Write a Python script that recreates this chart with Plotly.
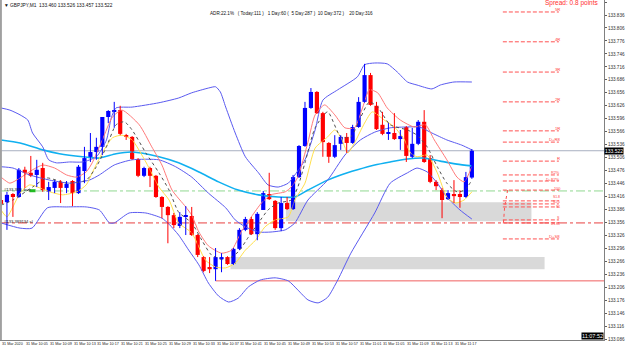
import plotly.graph_objects as go

# ---------------- data ----------------
title_text = "\u25bc GBPJPY,M1  133.460 133.526 133.457 133.522"
adr_text = "ADR:22.1%   ( Today:111 )   1 Day:60 (  5 Day:287 )  10 Day:372 )    20 Day:316"
spread_text = "Spread: 0.8 points"

opens = [133.408, 133.403, 133.422, 133.415, 133.478, 133.471, 133.466, 133.482, 133.427, 133.436,
         133.450, 133.436, 133.452, 133.424, 133.475, 133.505, 133.519, 133.531, 133.600, 133.612,
         133.616, 133.558, 133.554, 133.503, 133.464, 133.482, 133.464, 133.415, 133.392, 133.373,
         133.348, 133.369, 133.371, 133.327, 133.276, 133.253, 133.248, 133.271, 133.276, 133.260,
         133.295, 133.339, 133.364, 133.329, 133.385, 133.422, 133.406, 133.343, 133.401, 133.387,
         133.461, 133.533, 133.621, 133.658, 133.609, 133.540, 133.508, 133.538, 133.554, 133.540,
         133.577, 133.635, 133.697, 133.626, 133.582, 133.561, 133.563, 133.549, 133.577, 133.508,
         133.538, 133.589, 133.505, 133.450, 133.431, 133.410, 133.422, 133.422, 133.415, 133.460]
highs = [133.424, 133.427, 133.424, 133.482, 133.485, 133.510, 133.501, 133.494, 133.450, 133.454,
         133.454, 133.452, 133.454, 133.489, 133.531, 133.563, 133.552, 133.600, 133.616, 133.635,
         133.626, 133.561, 133.556, 133.505, 133.485, 133.485, 133.466, 133.417, 133.394, 133.378,
         133.380, 133.394, 133.392, 133.329, 133.278, 133.276, 133.297, 133.285, 133.278, 133.297,
         133.343, 133.369, 133.369, 133.380, 133.429, 133.471, 133.408, 133.415, 133.415, 133.466,
         133.535, 133.635, 133.667, 133.660, 133.612, 133.542, 133.558, 133.558, 133.563, 133.582,
         133.646, 133.723, 133.702, 133.635, 133.612, 133.586, 133.609, 133.570, 133.579, 133.575,
         133.593, 133.616, 133.512, 133.454, 133.436, 133.431, 133.454, 133.431, 133.473, 133.526]
lows = [133.373, 133.339, 133.369, 133.413, 133.436, 133.461, 133.438, 133.427, 133.408, 133.424,
        133.401, 133.424, 133.394, 133.422, 133.447, 133.496, 133.501, 133.512, 133.586, 133.575,
        133.558, 133.547, 133.501, 133.461, 133.461, 133.438, 133.413, 133.366, 133.308, 133.343,
        133.343, 133.327, 133.325, 133.276, 133.241, 133.239, 133.221, 133.241, 133.258, 133.258,
        133.292, 133.336, 133.327, 133.315, 133.385, 133.408, 133.339, 133.336, 133.385, 133.385,
        133.459, 133.531, 133.619, 133.607, 133.508, 133.494, 133.505, 133.524, 133.517, 133.538,
        133.575, 133.633, 133.626, 133.570, 133.558, 133.547, 133.547, 133.524, 133.496, 133.505,
        133.535, 133.494, 133.447, 133.431, 133.366, 133.408, 133.401, 133.390, 133.413, 133.457]
closes = [133.399, 133.420, 133.415, 133.478, 133.471, 133.464, 133.478, 133.431, 133.438, 133.450,
          133.436, 133.445, 133.424, 133.485, 133.505, 133.519, 133.531, 133.600, 133.614, 133.614,
          133.561, 133.554, 133.503, 133.464, 133.482, 133.464, 133.415, 133.392, 133.373, 133.350,
          133.369, 133.371, 133.327, 133.281, 133.244, 133.248, 133.276, 133.276, 133.260, 133.295,
          133.339, 133.364, 133.329, 133.376, 133.424, 133.410, 133.343, 133.401, 133.387, 133.461,
          133.533, 133.621, 133.658, 133.609, 133.542, 133.508, 133.535, 133.554, 133.540, 133.577,
          133.635, 133.697, 133.628, 133.572, 133.561, 133.563, 133.549, 133.556, 133.510, 133.538,
          133.589, 133.496, 133.450, 133.440, 133.408, 133.424, 133.417, 133.415, 133.461, 133.522]

bb_up_x = [0, 1.5, 3.2, 4.5, 5.3, 7, 8, 9.3, 11.5, 13.7, 16, 17.7, 18.5, 19.3, 22, 26.5, 29.8, 32, 34.8,
           36, 36.8, 37.7, 39.3, 41, 43.2, 44.8, 46.5, 48.2, 49.3, 51, 52.7, 54, 56.5, 59.8, 61, 62.7,
           64.8, 66.5, 68.2, 69.8, 72.3, 73.7, 76, 79]
bb_up_y = [133.621, 133.616, 133.605, 133.593, 133.563, 133.531, 133.501, 133.494, 133.496, 133.496,
           133.508, 133.547, 133.598, 133.621, 133.623, 133.633, 133.644, 133.656, 133.667, 133.670,
           133.658, 133.623, 133.563, 133.508, 133.471, 133.443, 133.438, 133.447, 133.466, 133.501,
           133.570, 133.639, 133.663, 133.693, 133.721, 133.725, 133.723, 133.704, 133.681, 133.674,
           133.665, 133.674, 133.681, 133.681]
bb_mid_x = [0, 2, 4.8, 8.2, 11.5, 14.8, 16.5, 19, 22, 26.5, 29.3, 32, 34.8, 37.7, 39.3, 41, 43.2, 45.3,
            47.7, 49.3, 51.5, 54.8, 57.7, 60.3, 62.7, 65.3, 68.2, 70.2, 72.3, 74.8, 77.3, 79]
bb_mid_y = [133.485, 133.482, 133.466, 133.454, 133.447, 133.454, 133.466, 133.489, 133.501, 133.501,
            133.485, 133.461, 133.424, 133.390, 133.362, 133.346, 133.334, 133.334, 133.339, 133.355,
            133.408, 133.454, 133.512, 133.547, 133.565, 133.575, 133.577, 133.577, 133.563, 133.547,
            133.535, 133.524]
bb_lo_x = [0, 3.2, 5.2, 7.8, 11, 14.3, 16.5, 18.2, 19, 21.5, 24.3, 27, 28.2, 29.8, 31.5, 33.2, 34.8,
           36.5, 38.2, 39.8, 41.5, 43.5, 46, 48.2, 49.8, 51.5, 53.2, 54.8, 56.5, 58.7, 62.7, 65.3, 68.2,
           69.8, 71.5, 73.2, 74.8, 77, 79]
bb_lo_y = [133.355, 133.343, 133.343, 133.390, 133.392, 133.392, 133.385, 133.355, 133.355, 133.378,
           133.378, 133.366, 133.352, 133.327, 133.292, 133.258, 133.216, 133.186, 133.172, 133.181,
           133.207, 133.223, 133.228, 133.221, 133.200, 133.177, 133.170, 133.183, 133.223, 133.285,
           133.378, 133.447, 133.471, 133.482, 133.473, 133.447, 133.415, 133.385, 133.364]
ma_slow_x = [0, 3.2, 7, 9.8, 13.7, 16.5, 19.3, 22, 26.5, 29.8, 33.2, 36.5, 39.8, 43.2, 46.5, 49.3, 51.5,
             54.8, 57, 59.8, 62.7, 65.3, 68.2, 71, 73.7, 76.5, 79]
ma_slow_y = [133.547, 133.540, 133.524, 133.515, 133.508, 133.505, 133.515, 133.519, 133.508, 133.494,
             133.473, 133.450, 133.431, 133.420, 133.415, 133.415, 133.431, 133.454, 133.466, 133.478,
             133.489, 133.496, 133.503, 133.505, 133.498, 133.491, 133.487]
env_hi_x = [0, 1.5, 3.2, 5.3, 7, 9, 11, 12.7, 14.3, 15.3, 17, 18.7, 20.3, 23.2, 25.3, 27, 28.7, 31, 32,
            33.2, 34.8, 37, 38.7, 40.3, 42, 43.7, 45.3, 47.7, 48.7, 49.8, 51.5, 52.7, 54.3, 56, 57.7,
            59.3, 60.7, 61.8, 63.2, 64.8, 67, 69.3, 71.2, 72.7, 74.8, 76.5, 77.7, 79]
env_hi_y = [133.461, 133.447, 133.459, 133.478, 133.489, 133.482, 133.466, 133.461, 133.473, 133.494,
            133.547, 133.600, 133.616, 133.582, 133.531, 133.489, 133.431, 133.392, 133.373, 133.334,
            133.302, 133.285, 133.292, 133.334, 133.369, 133.401, 133.420, 133.427, 133.438, 133.461,
            133.542, 133.605, 133.628, 133.605, 133.575, 133.575, 133.623, 133.663, 133.656, 133.621,
            133.593, 133.577, 133.582, 133.547, 133.501, 133.461, 133.450, 133.485]
env_lo_x = [0, 1, 2, 3.2, 4.8, 6.5, 8.2, 10.3, 12.7, 14.3, 15.3, 17, 18.7, 20.3, 22, 24.3, 26.5, 28.2,
            29.8, 32, 34.3, 36, 37.7, 39.3, 41, 42.7, 44.3, 46, 48.2, 49.3, 51, 52.7, 54.8, 56, 57,
            58.2, 59.3, 61, 62.3, 64.3, 66, 67.7, 68.7, 69.8, 71.5, 73.2, 74.8, 76.2, 77.7, 79]
env_lo_y = [133.385, 133.369, 133.392, 133.424, 133.443, 133.436, 133.427, 133.420, 133.427, 133.443,
            133.471, 133.517, 133.552, 133.558, 133.547, 133.496, 133.438, 133.408, 133.355, 133.332,
            133.269, 133.253, 133.251, 133.262, 133.292, 133.315, 133.346, 133.362, 133.369, 133.408,
            133.447, 133.528, 133.554, 133.570, 133.554, 133.517, 133.540, 133.586, 133.612, 133.593,
            133.577, 133.547, 133.517, 133.508, 133.512, 133.471, 133.415, 133.401, 133.408, 133.427]
ma_fast_x = [0, 2, 5.3, 7.7, 11, 14.3, 16, 17.7, 19.3, 20.7, 22, 24.3, 26.5, 28.2, 29.8, 32, 33.7, 35.3,
             37.7, 39.8, 41.5, 43.2, 44.8, 46.5, 48.7, 49.8, 51, 52.7, 54.8, 57, 58.7, 60.3, 61.8, 63.2,
             65.3, 68.2, 69.8, 71.5, 73.2, 74.8, 76.5, 77.8, 79]
ma_fast_y = [133.396, 133.408, 133.438, 133.459, 133.447, 133.454, 133.485, 133.531, 133.582, 133.589,
             133.570, 133.517, 133.471, 133.431, 133.380, 133.355, 133.315, 133.281, 133.269, 133.288,
             133.322, 133.355, 133.385, 133.401, 133.408, 133.438, 133.494, 133.575, 133.612, 133.554,
             133.554, 133.598, 133.635, 133.623, 133.582, 133.570, 133.558, 133.531, 133.485, 133.447,
             133.427, 133.431, 133.454]

zone_upper = [47.8, 89.0, 133.359, 133.403]
zone_lower = [38.5, 91.2, 133.248, 133.276]
green_level = 133.429
red_level = 133.355
low_start = 36

pivot_levels = [133.843, 133.774, 133.704, 133.635, 133.568, 133.542, 133.498, 133.466, 133.452,
                133.431, 133.406, 133.399, 133.392, 133.362, 133.355, 133.318]
pivot_labels = ["5R", "4R", "3R", "2R", "1R", "D+R8", "R", "R2%", "D+R7%", "100",
                "S1.8", "S1.5", "S1", "S", "D+S1", "D+S8"]
pivot_x = [84.2, 93.6]

tick_labels = ["133.866", "133.836", "133.806", "133.776", "133.746", "133.716", "133.686", "133.656",
               "133.626", "133.596", "133.566", "133.536", "133.506", "133.476", "133.446", "133.416",
               "133.386", "133.356", "133.326", "133.296", "133.266", "133.236", "133.206", "133.176",
               "133.146", "133.116", "133.086"]
time_labels = ["31 Mar 2020", "31 Mar 10:05", "31 Mar 10:09", "31 Mar 10:13", "31 Mar 10:17",
               "31 Mar 10:21", "31 Mar 10:25", "31 Mar 10:29", "31 Mar 10:33", "31 Mar 10:37",
               "31 Mar 10:41", "31 Mar 10:45", "31 Mar 10:49", "31 Mar 10:53", "31 Mar 10:57",
               "31 Mar 11:01", "31 Mar 11:05", "31 Mar 11:09", "31 Mar 11:13", "31 Mar 11:17"]
time_pos = list(range(0, 80, 4))

# ---------------- figure ----------------
FONT = "Liberation Sans"
UP, DN = "#0000ff", "#ff0000"
bars = list(range(len(opens)))
fig = go.Figure()

def add_line(xs, ys, color, width=1, dash=None, shape="spline"):
    fig.add_trace(go.Scatter(x=xs, y=ys, mode="lines", hoverinfo="skip",
                             line=dict(color=color, width=width, dash=dash, shape=shape, smoothing=0.6)))

add_line(ma_slow_x, ma_slow_y, "#10b0f0", 1.6)
add_line(bb_up_x, bb_up_y, "#5a5af0", 1)
add_line(bb_mid_x, bb_mid_y, "#5a5af0", 1)
add_line(bb_lo_x, bb_lo_y, "#5a5af0", 1)
add_line(env_hi_x, env_hi_y, "#ff7a7a", 1)
add_line(env_lo_x, env_lo_y, "#ffe04a", 1)
add_line(ma_fast_x, ma_fast_y, "#505050", 1, "dot")

# pivot dashed levels
px, py = [], []
for lv in pivot_levels:
    px += [pivot_x[0], pivot_x[1], None]
    py += [lv, lv, None]
fig.add_trace(go.Scatter(x=px, y=py, mode="lines", hoverinfo="skip",
                         line=dict(color="#ff5050", width=1, dash="4px,2px")))
fig.add_trace(go.Scatter(x=[85.0, 84.5, 84.3], y=[pivot_levels[9], pivot_levels[12], red_level],
                         mode="lines", hoverinfo="skip", line=dict(color="#ff5050", width=1, dash="dot")))

# candles: wicks + bodies
for color, test in ((UP, lambda o, c: c >= o), (DN, lambda o, c: c < o)):
    wx, wy = [], []
    for i in bars:
        if test(opens[i], closes[i]):
            wx += [i, i, None]
            wy += [lows[i], highs[i], None]
    fig.add_trace(go.Scatter(x=wx, y=wy, mode="lines", hoverinfo="skip",
                             line=dict(color=color, width=1)))
body_base = [min(o, c) for o, c in zip(opens, closes)]
body_h = [max(abs(c - o), 0.0024) for o, c in zip(opens, closes)]
body_col = [UP if c >= o else DN for o, c in zip(opens, closes)]
fig.add_trace(go.Bar(x=bars, y=body_h, base=body_base, width=0.7,
                     marker=dict(color=body_col, line=dict(width=0)), hoverinfo="skip"))

shapes = [
    dict(type="rect", xref="x", yref="y", x0=zone_upper[0], x1=zone_upper[1], y0=zone_upper[2], y1=zone_upper[3],
         fillcolor="#d9d9d9", line=dict(width=0), layer="below"),
    dict(type="rect", xref="x", yref="y", x0=zone_lower[0], x1=zone_lower[1], y0=zone_lower[2], y1=zone_lower[3],
         fillcolor="#d9d9d9", line=dict(width=0), layer="below"),
    dict(type="line", xref="paper", yref="y", x0=0, x1=1, y0=closes[-1], y1=closes[-1],
         line=dict(color="#a8b0c0", width=1), layer="below"),
    dict(type="line", xref="paper", yref="y", x0=0, x1=1, y0=green_level, y1=green_level,
         line=dict(color="#90d890", width=1, dash="dashdot"), layer="below"),
    dict(type="line", xref="paper", yref="y", x0=0, x1=1, y0=red_level, y1=red_level,
         line=dict(color="#e84040", width=1, dash="dashdot"), layer="below"),
    dict(type="line", xref="x", yref="y", x0=low_start, x1=101.2, y0=min(lows), y1=min(lows),
         line=dict(color="#f06060", width=1), layer="below"),
    dict(type="rect", xref="x", yref="y", x0=4.8, x1=5.8, y0=green_level - 0.003, y1=green_level + 0.004,
         fillcolor="#22bb22", line=dict(width=0)),
    dict(type="line", xref="paper", yref="paper", x0=0.0015, x1=0.0015, y0=0, y1=1,
         line=dict(color="#a0a0a0", width=2)),
]

ann = []
for t, pos in zip(time_labels, time_pos):
    ann.append(dict(x=pos, y=0, xref="x", yref="paper", text=t, showarrow=False, borderpad=0,
                    xanchor="left", yanchor="top", yshift=-1, font=dict(size=3.7, color="#202020", family=FONT)))
small = {"S1.8": (3.4, 2), "S1.5": (3.4, 0), "S1": (3.4, -2), "S": (3.6, 0), "D+S1": (3.6, -3),
         "R2%": (3.8, 0), "D+R7%": (3.8, -1), "100": (3.8, -1)}
for lv, lb in zip(pivot_levels, pivot_labels):
    sz, ys = small.get(lb, (4.2, 0))
    ann.append(dict(x=pivot_x[1] + 0.3, y=lv, xref="x", yref="y", text=lb, showarrow=False, borderpad=0,
                    xanchor="right", yanchor="bottom", yshift=-1 + ys,
                    font=dict(size=sz, color="#ff4040", family=FONT)))
ann += [
    dict(x=0.003, y=0.998, xref="paper", yref="paper", text=title_text, showarrow=False,
         xanchor="left", yanchor="top", font=dict(size=4.8, color="#101010", family=FONT)),
    dict(x=0.345, y=0.975, xref="paper", yref="paper", text=adr_text, showarrow=False,
         xanchor="left", yanchor="top", font=dict(size=4.6, color="#101010", family=FONT)),
    dict(x=0.993, y=1.0, xref="paper", yref="paper", text=spread_text, showarrow=False, borderpad=0,
         xanchor="right", yanchor="top", yshift=2, font=dict(size=6.5, color="#ff3030", family=FONT)),
    dict(x=0.003, y=green_level, xref="paper", yref="y", text="#133.389  buy", showarrow=False,
         xanchor="left", yanchor="middle", yshift=1, font=dict(size=4.2, color="#202020", family=FONT)),
    dict(x=0.003, y=red_level, xref="paper", yref="y", text="#133.389134 sl", showarrow=False,
         xanchor="left", yanchor="middle", yshift=1, font=dict(size=4.2, color="#202020", family=FONT)),
    dict(x=1.0, y=closes[-1], xref="paper", yref="y", text="133.522", showarrow=False,
         xanchor="left", yanchor="middle", bgcolor="#000000", borderpad=0,
         font=dict(size=5, color="#ffffff", family=FONT)),
    dict(x=1.0, y=0, xref="paper", yref="paper", text="11:07:52", showarrow=False,
         xanchor="right", yanchor="bottom", bgcolor="#000000", borderpad=0,
         font=dict(size=5.5, color="#ffffff", family=FONT)),
]

fig.update_layout(
    width=625, height=349,
    margin=dict(l=0, r=17, t=0, b=9),
    paper_bgcolor="#ffffff", plot_bgcolor="#ffffff",
    showlegend=False, barmode="overlay",
    shapes=shapes, annotations=ann,
    xaxis=dict(range=[-1/6, 101.17], showgrid=False, zeroline=False, showticklabels=False,
               showline=True, linecolor="#808080", linewidth=1, fixedrange=True),
    yaxis=dict(range=[133.0842, 133.8707], side="right", showgrid=False, zeroline=False,
               tickvals=[float(t) for t in tick_labels], ticktext=tick_labels,
               ticks="outside", ticklen=2, tickcolor="#606060",
               tickfont=dict(size=4.6, color="#303030", family=FONT),
               showline=True, linecolor="#808080", linewidth=1, fixedrange=True),
)

fig.write_html("out.html")
